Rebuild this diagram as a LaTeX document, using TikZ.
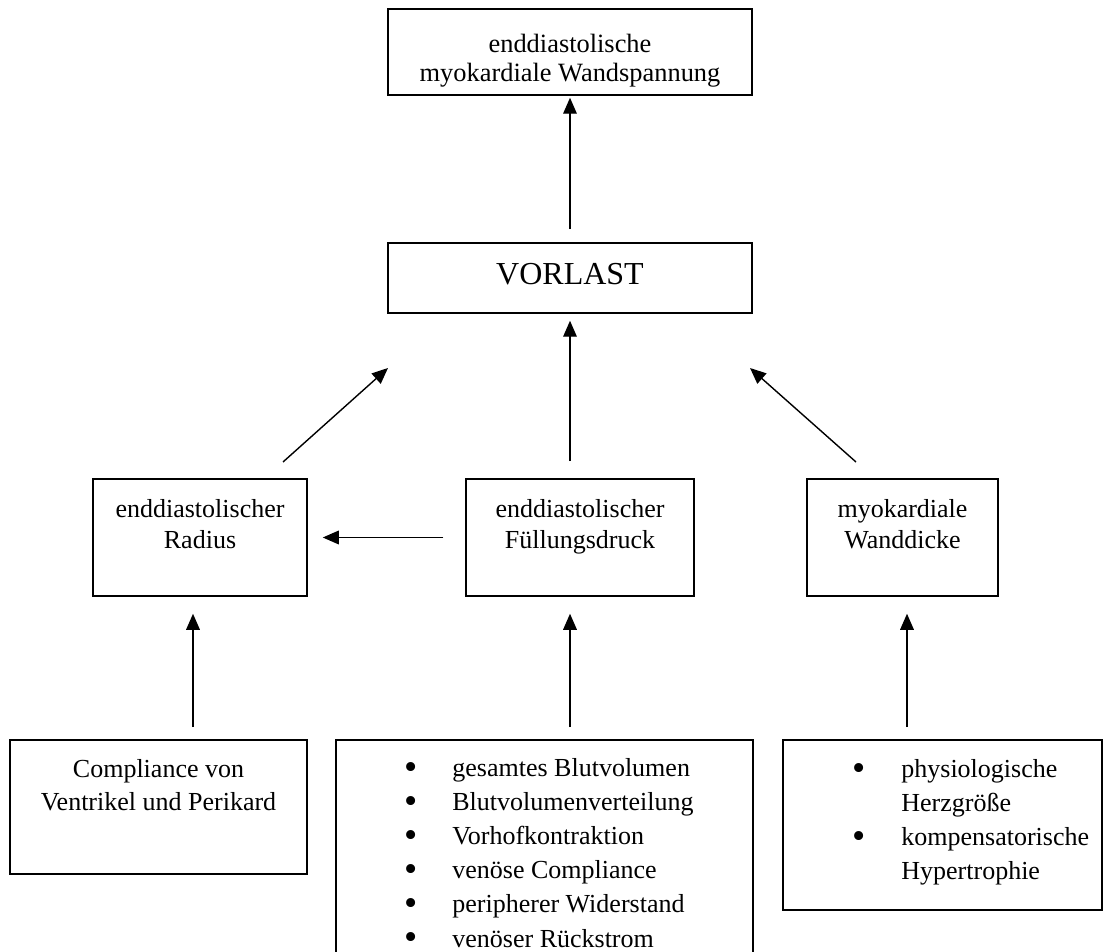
\documentclass[tikz,border=0pt]{standalone}
\usepackage{fontspec}
\setmainfont{Liberation Serif}
\usetikzlibrary{arrows.meta,fit}
\newcommand{\bul}{\raisebox{-1.5pt}{\scalebox{1.45}{•}}}
\begin{document}
\begin{tikzpicture}[x=0.5pt,y=-0.5pt,
  box/.style={draw, line width=0.75pt, inner sep=0pt, rectangle},
  txt/.style={inner sep=0pt, anchor=base, font=\fontsize{13}{16}\selectfont},
  arr/.style={line width=0.7pt, -{Triangle[length=8pt,width=6.8pt]}}]
\useasboundingbox (0,0) rectangle (1110,952);
\clip (0,0) rectangle (1110,952);
% boxes
\node[box, fit={(388,9) (752,95)}] (tb) {};
\node[box, fit={(388,243) (752,313)}] (vl) {};
\node[box, fit={(93,479) (307,596)}] (rad) {};
\node[box, fit={(466,479) (694,596)}] (fd) {};
\node[box, fit={(807,479) (998,596)}] (wd) {};
\node[box, fit={(10,740) (307,874)}] (cp) {};
\node[box, fit={(336,740) (753,990)}] (bm) {};
\node[box, fit={(783,740) (1102,910)}] (br) {};
% texts
\node[txt, font=\fontsize{13.2}{14.5}\selectfont] (tbt) at (570,53)
  {\begin{tabular}[t]{@{}c@{}}enddiastolische\\myokardiale Wandspannung\end{tabular}};
\node[txt, font=\fontsize{16}{18}\selectfont] (vlt) at (570,285) {VORLAST};
\node[txt] (radt) at (200,517)
  {\begin{tabular}[t]{@{}c@{}}enddiastolischer\\Radius\end{tabular}};
\node[txt] (fdt) at (580,517)
  {\begin{tabular}[t]{@{}c@{}}enddiastolischer\\Füllungsdruck\end{tabular}};
\node[txt] (wdt) at (902.5,517)
  {\begin{tabular}[t]{@{}c@{}}myokardiale\\Wanddicke\end{tabular}};
\node[txt, font=\fontsize{13}{16.5}\selectfont] (cpt) at (158.5,777)
  {\begin{tabular}[t]{@{}c@{}}Compliance von\\Ventrikel und Perikard\end{tabular}};
\node[txt, anchor=base west, font=\fontsize{13}{17.1}\selectfont] (bmt) at (404.5,776)
  {\begin{tabular}[t]{@{}p{23.75pt}@{}l@{}}
  \bul & gesamtes Blutvolumen\\
  \bul & Blutvolumenverteilung\\
  \bul & Vorhofkontraktion\\
  \bul & venöse Compliance\\
  \bul & peripherer Widerstand\\
  \bul & venöser Rückstrom
  \end{tabular}};
\node[txt, anchor=base west, font=\fontsize{13}{17}\selectfont] (brt) at (852.5,777)
  {\begin{tabular}[t]{@{}p{24.25pt}@{}l@{}}
  \bul & physiologische\\
       & Herzgröße\\
  \bul & kompensatorische\\
       & Hypertrophie
  \end{tabular}};
% arrow end points
\coordinate (aL) at (283,462);
\coordinate (aLt) at (388,368);
\coordinate (aR) at (856,462);
\coordinate (aRt) at (750,368);
\coordinate (bL) at (193,727);
\coordinate (bM) at (570,727);
\coordinate (bR) at (907,727);
% connectors
\draw[arr, shorten <=6.5pt, shorten >=1pt] (vl.north) -- (tb.south);
\draw[arr, shorten <=8.5pt, shorten >=3.5pt] (vl.south |- fd.north) -- (vl.south);
\draw[arr] (aL) -- (aLt);
\draw[arr] (aR) -- (aRt);
\draw[arr, shorten <=11pt, shorten >=7.5pt] (fd.west) -- (rad.east);
\draw[arr, shorten >=8.5pt] (bL) -- (bL |- rad.south);
\draw[arr, shorten >=8.5pt] (bM) -- (bM |- fd.south);
\draw[arr, shorten >=8.5pt] (bR) -- (bR |- wd.south);
\end{tikzpicture}
\end{document}
